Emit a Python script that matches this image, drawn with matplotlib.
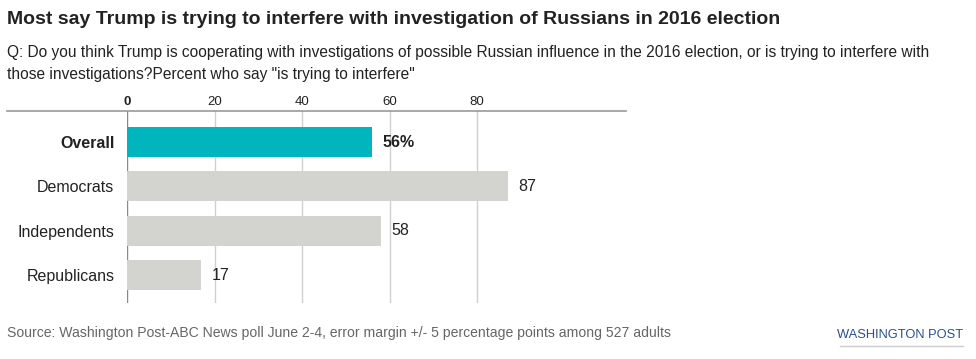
import matplotlib.pyplot as plt
from matplotlib.lines import Line2D

groups = ["Overall", "Democrats", "Independents", "Republicans"]
values = [56, 87, 58, 17]
labels = ["56%", "87", "58", "17"]
ticks = [0, 20, 40, 60, 80]

plt.rcParams["font.family"] = ["Liberation Sans", "DejaVu Sans"]

fig = plt.figure(figsize=(9.76, 3.59), dpi=100)
ax = fig.add_axes([127 / 976, 1 - 303 / 359, 499 / 976, 192 / 359])

colors = ["#00b5bd" if g == "Overall" else "#d3d4cf" for g in groups]
ypos = list(range(len(groups)))
ax.barh(ypos, values, height=0.68, color=colors, zorder=2)

for y, v, lab, g in zip(ypos, values, labels, groups):
    ax.text(v + 2.3, y, lab, va="center", ha="left", fontsize=11.5,
            fontweight="bold" if g == "Overall" else "normal", color="#222222")

ax.set_xlim(0, 114)
ax.set_ylim(3.63, -0.70)
ax.set_yticks(ypos)
ax.set_yticklabels(groups, fontsize=11.5, color="#222222")
ax.get_yticklabels()[0].set_fontweight("bold")
ax.tick_params(axis="y", length=0, pad=9)

ax.xaxis.tick_top()
ax.set_xticks(ticks)
ax.set_xticklabels([str(t) for t in ticks], fontsize=9.5, color="#222222")
ax.get_xticklabels()[0].set_fontweight("bold")
ax.tick_params(axis="x", length=0, pad=2)

for t in ticks:
    ax.axvline(t, color="#888888" if t == 0 else "#d0d0d0", linewidth=1, zorder=1)

for s in ax.spines.values():
    s.set_visible(False)

fig.add_artist(Line2D([7 / 976, 626 / 976], [1 - 111 / 359] * 2,
                      color="#999999", linewidth=1.2))

fig.text(7 / 976, 1 - 20 / 359, "Most say Trump is trying to interfere with investigation of Russians in 2016 election",
         fontsize=14, fontweight="bold", color="#222222", va="center")
fig.text(7 / 976, 1 - 52 / 359,
         "Q: Do you think Trump is cooperating with investigations of possible Russian influence in the 2016 election, or is trying to interfere with",
         fontsize=11.2, color="#222222", va="center")
fig.text(7 / 976, 1 - 74 / 359, "those investigations?Percent who say \"is trying to interfere\"",
         fontsize=11.2, color="#222222", va="center")
fig.text(7 / 976, 1 - 333 / 359,
         "Source: Washington Post-ABC News poll June 2-4, error margin +/- 5 percentage points among 527 adults",
         fontsize=10.1, color="#666666", va="center")
fig.text(963 / 976, 1 - 335 / 359, "WASHINGTON POST", fontsize=9.3, color="#2a4f8f",
         va="center", ha="right")
fig.add_artist(Line2D([840 / 976, 963 / 976], [1 - 346 / 359] * 2,
                      color="#cccccc", linewidth=1))

fig.savefig("out.png", dpi=100)
